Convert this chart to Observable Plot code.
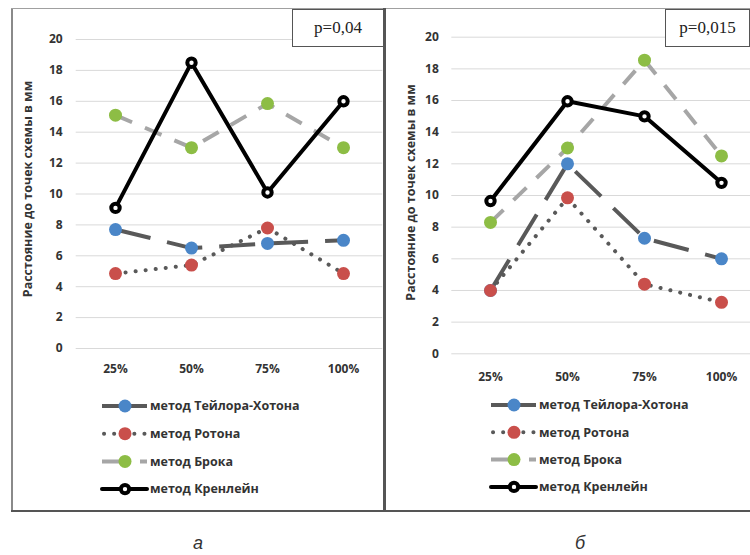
<!DOCTYPE html>
<html><head><meta charset="utf-8">
<script src="https://cdn.jsdelivr.net/npm/d3@7"></script>
<script src="https://cdn.jsdelivr.net/npm/@observablehq/plot@0.6"></script>
<style>
html,body{margin:0;padding:0;background:#fff;overflow:hidden;width:750px;height:555px;}
#root{position:relative;width:750px;height:555px;overflow:hidden;font-family:"Open Sans",sans-serif;}
.abs{position:absolute;}
.pbox{position:absolute;background:#fff;border:1px solid #555;box-sizing:border-box;font-family:"Liberation Serif","Times New Roman",serif;font-size:17px;color:#222;display:flex;align-items:center;justify-content:center;}
.cap{position:absolute;font-family:"Liberation Sans",Arial,sans-serif;font-style:italic;font-size:18px;color:#333;transform:translate(-50%,-50%);}
</style></head><body><div id="root"></div>
<script>
// ---- data ----
const categories = ["25%", "50%", "75%", "100%"];
const seriesNames = ["метод Тейлора-Хотона", "метод Ротона", "метод Брока", "метод Кренлейн"];
const yTicks = [0, 2, 4, 6, 8, 10, 12, 14, 16, 18, 20];
const yLabel = "Расстояние до точек схемы в мм";
// panel а
const taylorA   = [7.7, 6.5, 6.8, 7.0];
const rotonA    = [4.85, 5.4, 7.8, 4.85];
const brocaA    = [15.1, 13.0, 15.85, 13.0];
const krenleinA = [9.1, 18.5, 10.1, 16.0];
// panel б
const taylorB   = [4.0, 12.0, 7.3, 6.0];
const rotonB    = [4.0, 9.85, 4.4, 3.25];
const brocaB    = [8.3, 13.0, 18.55, 12.5];
const krenleinB = [9.65, 15.95, 15.0, 10.8];
const pValues = ["p=0,04", "p=0,015"];
const panelLetters = ["а", "б"];

// ---- styles ----
const styles = [
  {line: "#595959", width: 4, dash: "36,17", cap: "butt", fill: "#4a86c8", stroke: "none", sw: 0, r: 6.5},
  {line: "#595959", width: 4, dash: "0.1,10", cap: "round", fill: "#c94f4b", stroke: "none", sw: 0, r: 6.5},
  {line: "#a6a6a6", width: 4, dash: "18,14", cap: "butt", fill: "#8dbd45", stroke: "none", sw: 0, r: 6.5},
  {line: "#000000", width: 4, dash: undefined, cap: "round", fill: "#ffffff", stroke: "#000000", sw: 4, r: 4.2}
];

const root = document.getElementById("root");

function panel(vals, o) {
  const data = [];
  seriesNames.forEach((s, si) => categories.forEach((c, ci) => data.push({series: s, si, cat: c, value: vals[si][ci]})));
  const marks = [
    Plot.gridY(yTicks, {stroke: "#d9d9d9", strokeOpacity: 1, strokeWidth: 1}),
    Plot.axisY(yTicks, {tickSize: 0, tickPadding: o.yPad, label: null}),
    Plot.axisX({tickSize: 0, tickPadding: o.xPad, label: null}),
    Plot.text([yLabel], {text: d => d, frameAnchor: "left", textAnchor: "middle", lineAnchor: "middle", rotate: -90, dx: o.labelDx, dy: o.labelDy, fontSize: 12.5, fontWeight: "bold"})
  ];
  seriesNames.forEach((s, si) => {
    const st = styles[si];
    const d = data.filter(r => r.si === si);
    marks.push(Plot.line(d, {x: "cat", y: "value", stroke: st.line, strokeWidth: st.width, strokeDasharray: st.dash, strokeLinecap: st.cap, strokeLinejoin: "round"}));
    marks.push(Plot.dot(d, {x: "cat", y: "value", r: st.r, fill: st.fill, stroke: st.stroke, strokeWidth: st.sw}));
  });
  const svg = Plot.plot({
    width: o.width, height: o.height,
    marginLeft: o.ml, marginRight: o.mr, marginTop: o.mt, marginBottom: o.mb,
    x: {type: "point", domain: categories, padding: 0.5},
    y: {domain: [0, 20]},
    style: {fontFamily: "'Open Sans', sans-serif", fontSize: "12px", fontWeight: "bold", color: "#333", background: "none", overflow: "visible"},
    marks
  });
  svg.style.position = "absolute";
  svg.style.left = o.left + "px";
  svg.style.top = o.top + "px";
  root.appendChild(svg);
}

function legend(o) {
  const svg = d3.create("svg").attr("width", 300).attr("height", 110)
    .style("position", "absolute").style("left", o.left + "px").style("top", o.top + "px").style("overflow", "visible");
  const legDash = [undefined, "0.1,10", "26,12", undefined];
  seriesNames.forEach((s, si) => {
    const st = styles[si];
    const y = 5 + si * o.step;
    svg.append("line").attr("x1", si === 1 ? 2 : 0).attr("x2", 45).attr("y1", y).attr("y2", y)
      .attr("stroke", st.line).attr("stroke-width", st.width).attr("stroke-linecap", st.cap)
      .attr("stroke-dasharray", legDash[si] || null);
    svg.append("circle").attr("cx", 23).attr("cy", y).attr("r", st.r).attr("fill", st.fill)
      .attr("stroke", st.stroke).attr("stroke-width", st.sw);
    svg.append("text").attr("x", 48).attr("y", y).attr("dy", "0.35em").text(s)
      .attr("font-family", "'Open Sans', sans-serif").attr("font-size", 12.5).attr("font-weight", "bold").attr("fill", "#333");
  });
  root.appendChild(svg.node());
}

// frame
function box(l, t, w, h, c) {
  const d = document.createElement("div");
  d.className = "abs";
  Object.assign(d.style, {left: l + "px", top: t + "px", width: w + "px", height: h + "px", background: c});
  root.appendChild(d);
}

panel([taylorA, rotonA, brocaA, krenleinA],
  {left: 12, top: 8, width: 372, height: 375, ml: 63.7, mr: 1.7, mt: 31, mb: 35, yPad: 13.5, xPad: 16, labelDx: -48, labelDy: -5});
panel([taylorB, rotonB, brocaB, krenleinB],
  {left: 388, top: 8, width: 374, height: 380, ml: 63.3, mr: 1.4, mt: 28.7, mb: 34.7, yPad: 13, xPad: 19, labelDx: -41, labelDy: -3});

legend({left: 102, top: 401, step: 27.7});
legend({left: 491, top: 400, step: 27.3});

box(11, 8, 1.5, 504, "#8a8a8a");
box(11, 8, 739, 1, "#a0a0a0");
box(11, 510, 739, 2, "#555");
box(383, 8, 3, 504, "#555");

[[292, 9, 92, 38, 0], [665, 9, 85, 38, 1]].forEach(([l, t, w, h, i]) => {
  const d = document.createElement("div");
  d.className = "pbox";
  Object.assign(d.style, {left: l + "px", top: t + "px", width: w + "px", height: h + "px"});
  d.textContent = pValues[i];
  root.appendChild(d);
});

[[198, 543, 0], [580, 543, 1]].forEach(([x, y, i]) => {
  const d = document.createElement("div");
  d.className = "cap";
  Object.assign(d.style, {left: x + "px", top: y + "px"});
  d.textContent = panelLetters[i];
  root.appendChild(d);
});
</script></body></html>
